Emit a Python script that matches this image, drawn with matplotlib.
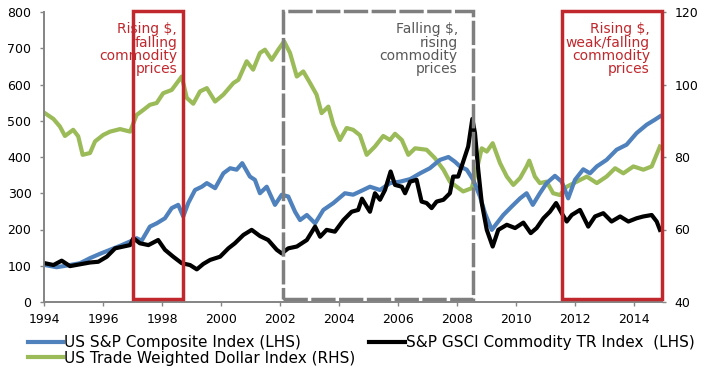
import numpy as np
import matplotlib.pyplot as plt
from matplotlib.patches import Rectangle
import matplotlib.transforms as mtransforms

# US S&P Composite Index (LHS)
sp_years = [1994.03, 1994.43, 1994.88, 1995.22, 1995.56, 1995.90, 1996.24, 1996.58, 1996.92,
            1997.14, 1997.31, 1997.59, 1997.82, 1998.10, 1998.33, 1998.55, 1998.72, 1998.89,
            1999.12, 1999.35, 1999.52, 1999.80, 2000.08, 2000.31, 2000.53, 2000.72, 2000.98,
            2001.15, 2001.32, 2001.55, 2001.83, 2002.06, 2002.28, 2002.51, 2002.68, 2002.91,
            2003.19, 2003.47, 2003.81, 2004.20, 2004.48, 2004.82, 2005.05, 2005.39, 2005.73,
            2006.07, 2006.41, 2006.75, 2007.08, 2007.42, 2007.71, 2007.93, 2008.10, 2008.33,
            2008.55, 2008.78, 2008.95, 2009.18, 2009.35, 2009.57, 2009.85, 2010.14, 2010.36,
            2010.57, 2010.81, 2011.04, 2011.32, 2011.55, 2011.77, 2012.00, 2012.28, 2012.51,
            2012.74, 2013.07, 2013.41, 2013.75, 2014.09, 2014.43, 2014.71, 2014.88]
sp_vals = [102, 96, 102, 107, 121, 133, 144, 155, 167,
           176, 169, 208, 217, 231, 259, 268, 236, 273,
           309, 318, 328, 314, 355, 369, 365, 383, 346,
           337, 300, 318, 268, 296, 291, 249, 226, 240,
           217, 254, 273, 300, 296, 309, 318, 309, 328,
           332, 339, 355, 369, 392, 400, 387, 374, 365,
           337, 291, 245, 199, 217, 240, 263, 286, 300,
           268, 300, 328, 348, 332, 286, 337, 366, 355,
           374, 392, 420, 434, 466, 489, 503, 512]

# S&P GSCI Commodity TR Index (LHS)
gsci_years = [1994.03, 1994.32, 1994.60, 1994.88, 1995.22, 1995.56, 1995.84, 1996.13, 1996.41,
              1996.69, 1996.92, 1997.03, 1997.25, 1997.54, 1997.87, 1998.10, 1998.38, 1998.67,
              1998.95, 1999.18, 1999.40, 1999.63, 1999.97, 2000.25, 2000.47, 2000.76, 2001.04,
              2001.32, 2001.60, 2001.89, 2002.06, 2002.28, 2002.57, 2002.91, 2003.19, 2003.36,
              2003.58, 2003.86, 2004.15, 2004.43, 2004.65, 2004.78, 2004.95, 2005.05, 2005.22,
              2005.39, 2005.56, 2005.75, 2005.90, 2006.13, 2006.24, 2006.41, 2006.63, 2006.80,
              2006.97, 2007.14, 2007.31, 2007.54, 2007.76, 2007.87, 2008.04, 2008.21, 2008.38,
              2008.52, 2008.61, 2008.72, 2008.84, 2009.01, 2009.21, 2009.40, 2009.69, 2009.97,
              2010.25, 2010.50, 2010.70, 2010.93, 2011.15, 2011.36, 2011.55, 2011.72, 2011.89,
              2012.17, 2012.45, 2012.68, 2012.96, 2013.24, 2013.53, 2013.81, 2014.09, 2014.32,
              2014.60, 2014.77, 2014.88]
gsci_vals = [107, 102, 114, 99, 104, 109, 111, 125, 148,
             153, 157, 176, 162, 157, 171, 144, 125, 107,
             102, 90, 105, 116, 125, 148, 162, 185, 199,
             182, 171, 144, 134, 148, 153, 171, 208, 180,
             199, 194, 226, 249, 254, 285, 262, 249, 300,
             282, 309, 360, 323, 318, 300, 332, 337, 277,
             273, 259, 277, 282, 300, 346, 346, 387, 429,
             505, 466, 365, 273, 199, 153, 199, 213, 204,
             219, 190, 204, 231, 249, 273, 245, 222, 240,
             254, 208, 236, 245, 222, 236, 222, 231, 236,
             240, 222, 199]

# US Trade Weighted Dollar Index (RHS)
usd_years = [1994.03, 1994.32, 1994.54, 1994.71, 1994.99, 1995.16, 1995.31, 1995.56, 1995.73,
             1996.01, 1996.24, 1996.58, 1996.92, 1997.14, 1997.37, 1997.59, 1997.82, 1998.04,
             1998.33, 1998.67, 1998.84, 1999.06, 1999.29, 1999.52, 1999.80, 2000.08, 2000.42,
             2000.59, 2000.87, 2001.09, 2001.32, 2001.49, 2001.72, 2001.94, 2002.14, 2002.34,
             2002.57, 2002.79, 2003.02, 2003.24, 2003.41, 2003.64, 2003.81, 2004.03, 2004.26,
             2004.48, 2004.71, 2004.94, 2005.22, 2005.50, 2005.73, 2005.90, 2006.13, 2006.35,
             2006.58, 2006.97, 2007.25, 2007.54, 2007.76, 2007.99, 2008.21, 2008.50, 2008.67,
             2008.84, 2009.01, 2009.21, 2009.46, 2009.69, 2009.91, 2010.14, 2010.36, 2010.45,
             2010.64, 2010.81, 2011.04, 2011.26, 2011.49, 2011.72, 2012.06, 2012.40, 2012.74,
             2013.07, 2013.36, 2013.64, 2013.98, 2014.32, 2014.60, 2014.88]
usd_vals = [92.1, 90.5, 88.4, 85.8, 87.5, 85.7, 80.6, 81.1, 84.3,
            86.1, 87.0, 87.7, 87.0, 91.6, 93.0, 94.4, 94.9, 97.6,
            98.5, 102.2, 96.3, 94.7, 98.1, 99.0, 95.3, 97.2, 100.4,
            101.3, 106.4, 104.1, 108.7, 109.6, 106.8, 109.6, 111.9, 108.7,
            102.2, 103.6, 100.4, 97.2, 92.1, 93.9, 88.9, 84.7, 88.0,
            87.5, 86.0, 80.6, 82.9, 85.8, 84.7, 86.4, 84.7, 80.6,
            82.4, 82.0, 79.7, 76.5, 73.2, 71.8, 70.5, 71.4, 76.5,
            82.4, 81.5, 83.8, 78.3, 74.6, 72.3, 74.2, 77.4, 79.0,
            74.6, 72.8, 73.2, 70.0, 69.5, 71.8, 73.2, 74.6, 72.8,
            74.6, 76.9, 75.5, 77.4, 76.5, 77.4, 82.9]

# highlighted periods: (start, end, label, colour)
periods = [(1997.03, 1998.72, 'Rising $,\nfalling\ncommodity\nprices', '#c0282d'),
           (2002.10, 2008.55, 'Falling $,\nrising\ncommodity\nprices', '#7f7f7f'),
           (2011.57, 2014.94, 'Rising $,\nweak/falling\ncommodity\nprices', '#c0282d')]
text_colors = ['#c0282d', '#595959', '#c0282d']
text_right = [1998.51, 2008.03, 2014.54]

plt.rcParams['font.family'] = ['DejaVu Sans']
axis_grey = '#868686'

fig = plt.figure(figsize=(7.04, 3.78), dpi=100)
ax = fig.add_axes([44/704, 1-302/378, 618/704, 290/378])
ax2 = ax.twinx()
ax.set_zorder(ax2.get_zorder() + 1)
ax.patch.set_visible(False)

l_usd, = ax2.plot(usd_years, usd_vals, color='#9bbb59', lw=3, solid_joinstyle='round')
l_sp, = ax.plot(sp_years, sp_vals, color='#4f81bd', lw=3, solid_joinstyle='round')
l_gs, = ax.plot(gsci_years, gsci_vals, color='black', lw=3, solid_joinstyle='round')

ax.set_xlim(1994, 2014.95)
ax.set_ylim(0, 800)
ax2.set_ylim(40, 120)
ax.set_xticks(np.arange(1994, 2015, 2))
ax.set_yticks(np.arange(0, 801, 100))
ax2.set_yticks(np.arange(40, 121, 20))

for a in (ax, ax2):
    a.spines['top'].set_visible(False)
    for s in ('left', 'right', 'bottom'):
        a.spines[s].set_color(axis_grey)
        a.spines[s].set_linewidth(1.3)
    a.tick_params(direction='out', length=3, width=1, color=axis_grey, labelsize=9, pad=6)
ax.tick_params(axis='x', pad=5)

trans = mtransforms.blended_transform_factory(ax.transData, ax.transAxes)
for (x0, x1, label, col), tc, xr in zip(periods, text_colors, text_right):
    ls = '-' if col != '#7f7f7f' else (0, (7, 1))
    ax.add_patch(Rectangle((x0, 8), x1 - x0, 795, fill=False, edgecolor=col, lw=2.5,
                           linestyle=ls, zorder=5, clip_on=False))
    ax.text(xr, 0.872, label, transform=trans, ha='right', va='center', color=tc,
            fontsize=10, linespacing=0.92, zorder=6)

fig.legend([l_sp, l_usd, l_gs],
           ['US S&P Composite Index (LHS)', 'US Trade Weighted Dollar Index (RHS)',
            'S&P GSCI Commodity TR Index  (LHS)'],
           ncol=2, loc='upper left', bbox_to_anchor=(28/704, 1-335/378), frameon=False,
           fontsize=11, handlelength=2.3, handletextpad=0.08, columnspacing=0.9,
           labelspacing=0.05, borderpad=0, borderaxespad=0)

fig.savefig('out.png', dpi=100)
